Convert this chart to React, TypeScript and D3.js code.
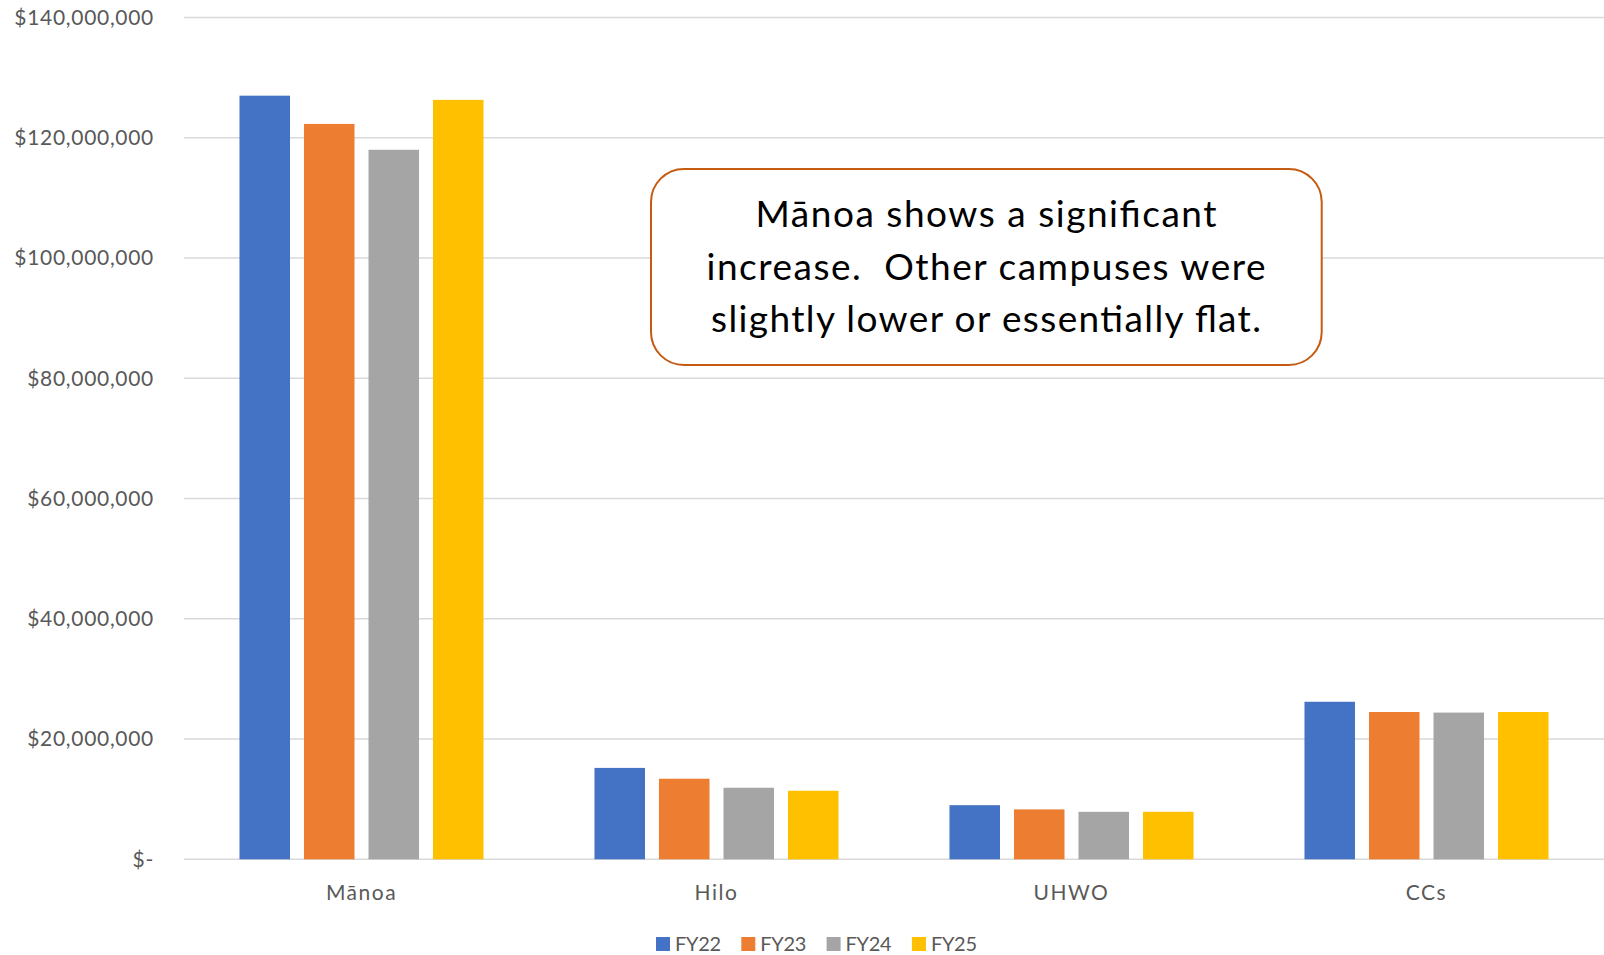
import React from "react";
import * as d3 from "d3";

const campuses = ["Mānoa", "Hilo", "UHWO", "CCs"];
const seriesNames = ["FY22", "FY23", "FY24", "FY25"];
const fy22 = [127000000, 15200000, 9000000, 26200000];
const fy23 = [122300000, 13400000, 8300000, 24500000];
const fy24 = [118000000, 11900000, 7900000, 24400000];
const fy25 = [126300000, 11400000, 7900000, 24500000];
const yTicks = [0, 20000000, 40000000, 60000000, 80000000, 100000000, 120000000, 140000000];
const colors = ["#4472C4", "#ED7D31", "#A5A5A5", "#FFC000"];
const noteLines = [
  "Mānoa shows a significant",
  "increase.  Other campuses were",
  "slightly lower or essentially flat.",
];
const noteWidths = [461, 559, 550];

const W = 1604;
const H = 955;
const plotLeft = 184;
const plotRight = 1604;
const plotTop = 17.5;
const plotBottom = 859.3;

export default function App() {
  const values = [fy22, fy23, fy24, fy25];
  const x0 = d3.scaleBand<string>().domain(campuses).range([plotLeft, plotRight]).padding(0);
  const x1 = d3
    .scaleBand<string>()
    .domain(seriesNames)
    .range([0, x0.bandwidth()])
    .paddingInner(0.217)
    .paddingOuter(0.86);
  const y = d3.scaleLinear().domain([0, 140000000]).range([plotBottom, plotTop]);
  const fmt = (v: number) => (v === 0 ? "$-" : "$" + d3.format(",")(v));
  const font = "Lato, 'Open Sans', sans-serif";
  const textColor = "#595959";
  const legendStep = 85.3;
  const legendStart = 656;

  return (
    <div style={{ position: "absolute", left: 0, top: 0 }}>
      <svg width={W} height={H} style={{ display: "block", background: "#fff" }}>
        {yTicks.map((t) => (
          <g key={t}>
            <line x1={plotLeft} x2={plotRight} y1={y(t)} y2={y(t)} stroke="#d9d9d9" strokeWidth={1.5} />
            <text
              x={154}
              y={y(t)}
              dy="0.35em"
              textAnchor="end"
              fontFamily={font}
              fontSize={21}
              fill={textColor}
              letterSpacing={0.7}
            >
              {fmt(t)}
            </text>
          </g>
        ))}
        {campuses.map((c, ci) => (
          <g key={c} transform={`translate(${x0(c)},0)`}>
            {seriesNames.map((s, si) => {
              const v = values[si][ci];
              return (
                <rect
                  key={s}
                  x={x1(s)}
                  y={y(v)}
                  width={x1.bandwidth()}
                  height={y(0) - y(v)}
                  fill={colors[si]}
                />
              );
            })}
            <text
              x={x0.bandwidth() / 2}
              y={900}
              textAnchor="middle"
              fontFamily={font}
              fontSize={21}
              fill={textColor}
              letterSpacing={1.5}
            >
              {c}
            </text>
          </g>
        ))}
        {seriesNames.map((s, si) => (
          <g key={s} transform={`translate(${legendStart + si * legendStep},0)`}>
            <rect x={0} y={937} width={14} height={14} fill={colors[si]} />
            <text x={19} y={951} fontFamily={font} fontSize={20} fill={textColor} letterSpacing={-0.3}>
              {s}
            </text>
          </g>
        ))}
        <rect
          x={651}
          y={169}
          width={670.7}
          height={196}
          rx={33}
          ry={33}
          fill="#fff"
          stroke="#C55A11"
          strokeWidth={2}
        />
        {noteLines.map((l, i) => (
          <text
            key={i}
            x={986}
            y={227 + i * 52.5}
            textAnchor="middle"
            fontFamily={font}
            fontSize={37}
            fill="#000"
            textLength={noteWidths[i]}
            lengthAdjust="spacing"
            style={{ whiteSpace: "pre" }}
          >
            {l}
          </text>
        ))}
      </svg>
    </div>
  );
}
